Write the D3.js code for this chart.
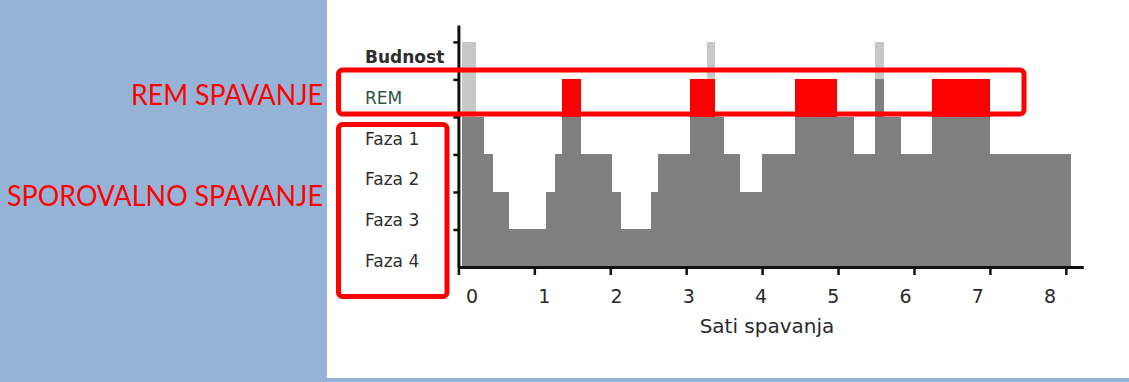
<!DOCTYPE html>
<html><head><meta charset="utf-8">
<script src="https://cdn.jsdelivr.net/npm/d3@7"></script>
<style>html,body{margin:0;padding:0;background:#95b3d7;} svg{display:block}</style>
</head><body><svg id="c" width="1129" height="382"></svg>
<script>
// ---- data ----
const stageNames = ["Faza 4", "Faza 3", "Faza 2", "Faza 1", "REM", "Budnost"];
const hourTicks = [0, 1, 2, 3, 4, 5, 6, 7, 8];
const segStart = [0.05, 0.34, 0.45, 0.66, 1.16, 1.27, 1.36, 1.62, 2.02, 2.14, 2.54, 2.63, 3.05, 3.38, 3.50, 3.71, 4.00, 4.43, 4.98, 5.21, 5.49, 5.61, 5.83, 6.24, 7.00];
const segEnd   = [0.34, 0.45, 0.66, 1.16, 1.27, 1.36, 1.62, 2.02, 2.14, 2.54, 2.63, 3.05, 3.38, 3.50, 3.71, 4.00, 4.43, 4.98, 5.21, 5.49, 5.61, 5.83, 6.24, 7.00, 8.07];
const segStage = ["Faza 1", "Faza 2", "Faza 3", "Faza 4", "Faza 3", "Faza 2", "REM", "Faza 2", "Faza 3", "Faza 4", "Faza 3", "Faza 2", "REM", "Faza 1", "Faza 2", "Faza 3", "Faza 2", "REM", "Faza 1", "Faza 2", "REM", "Faza 1", "Faza 2", "REM", "Faza 2"];
const remStart = [1.36, 3.05, 4.43, 6.24];
const remEnd   = [1.62, 3.38, 4.98, 7.00];
const wakeStart = [0.05, 3.27, 5.49];
const wakeEnd   = [0.23, 3.38, 5.61];
const sideLabels = ["REM SPAVANJE", "SPOROVALNO SPAVANJE"];
const axisTitle = "Sati spavanja";

// ---- layout ----
const svg = d3.select("#c");
const level = s => stageNames.indexOf(s) + 1;
const x = d3.scaleLinear().domain([0, 8.23]).range([458.4, 1083.3]);
const y = d3.scaleLinear().domain([0, 6.45]).range([267, 25]);
const xLabel = d3.scaleLinear().domain([0, 8]).range([472, 1050]);
const yLabel = d3.scalePoint().domain(stageNames).range([261, 57]);

svg.append("rect").attr("x", 327).attr("y", 0).attr("width", 802).attr("height", 378).attr("fill", "#ffffff");

const segs = segStart.map((s, i) => ({s, e: segEnd[i], lv: level(segStage[i])}));
const g = svg.append("g").attr("shape-rendering", "crispEdges");
g.selectAll("rect.seg").data(segs).join("rect").attr("class", "seg")
  .attr("x", d => x(d.s)).attr("width", d => x(d.e) - x(d.s))
  .attr("y", d => y(d.lv)).attr("height", d => y(0) - y(d.lv))
  .attr("fill", "#808080");

const rems = remStart.map((s, i) => ({s, e: remEnd[i]}));
g.selectAll("rect.rem").data(rems).join("rect").attr("class", "rem")
  .attr("x", d => x(d.s)).attr("width", d => x(d.e) - x(d.s))
  .attr("y", y(level("REM"))).attr("height", y(level("Faza 1")) - y(level("REM")))
  .attr("fill", "#fb0000");

const wakes = wakeStart.map((s, i) => {
  const mid = (s + wakeEnd[i]) / 2;
  const under = segs.find(d => mid >= d.s && mid < d.e);
  return {s, e: wakeEnd[i], bottom: under ? under.lv : 0};
});
g.selectAll("rect.wake").data(wakes).join("rect").attr("class", "wake")
  .attr("x", d => x(d.s)).attr("width", d => x(d.e) - x(d.s))
  .attr("y", y(level("Budnost"))).attr("height", d => y(d.bottom) - y(level("Budnost")))
  .attr("fill", "#c8c8c8");

// axes
const yAxis = d3.axisLeft(y).tickValues(d3.range(1, stageNames.length + 1)).tickSize(5).tickSizeOuter(0).tickFormat("");
const ya = svg.append("g").attr("transform", "translate(458.4,0)").call(yAxis);
ya.select(".domain").attr("stroke", "#111").attr("stroke-width", 3);
ya.selectAll(".tick line").attr("stroke", "#111").attr("stroke-width", 2.5);

const xAxis = d3.axisBottom(x).tickValues(hourTicks).tickSize(8).tickSizeOuter(0).tickFormat("");
const xa = svg.append("g").attr("transform", `translate(0,${y(0)})`).call(xAxis);
xa.select(".domain").attr("stroke", "#111").attr("stroke-width", 3);
xa.selectAll(".tick line").attr("stroke", "#111").attr("stroke-width", 2.5);

svg.append("g").selectAll("text").data(hourTicks).join("text")
  .attr("x", d => xLabel(d)).attr("y", 303)
  .attr("text-anchor", "middle").attr("font-family", "DejaVu Sans").attr("font-size", 19)
  .attr("fill", "#2a2a2a").text(d => d);

svg.append("text").attr("x", 767).attr("y", 333).attr("text-anchor", "middle")
  .attr("font-family", "DejaVu Sans").attr("font-size", 20).attr("fill", "#2a2a2a").text(axisTitle);

svg.append("g").selectAll("text").data(stageNames).join("text")
  .attr("x", 365).attr("y", d => yLabel(d)).attr("dy", "0.35em")
  .attr("font-family", "DejaVu Sans").attr("font-size", 17)
  .attr("font-weight", d => d === "Budnost" ? "bold" : "normal")
  .attr("fill", d => d === "REM" ? "#2f5444" : "#2e2e2e").text(d => d);

// boxes
svg.append("rect").attr("x", 338.5).attr("y", 70).attr("width", 1024 - 338.5).attr("height", 44)
  .attr("rx", 4).attr("fill", "none").attr("stroke", "#ff0000").attr("stroke-width", 5);
svg.append("rect").attr("x", 338.5).attr("y", 124.5).attr("width", 447 - 338.5).attr("height", 296.5 - 124.5)
  .attr("rx", 4).attr("fill", "none").attr("stroke", "#ff0000").attr("stroke-width", 5);

// side labels
svg.append("g").selectAll("text").data(sideLabels).join("text")
  .attr("x", 323).attr("y", (d, i) => i === 0 ? 105 : 205.5)
  .attr("text-anchor", "end").attr("font-family", "Lato").attr("font-size", 28)
  .attr("fill", "#ff0000")
  .attr("textLength", (d, i) => i === 0 ? 192 : 316).attr("lengthAdjust", "spacingAndGlyphs")
  .text(d => d);
</script></body></html>
